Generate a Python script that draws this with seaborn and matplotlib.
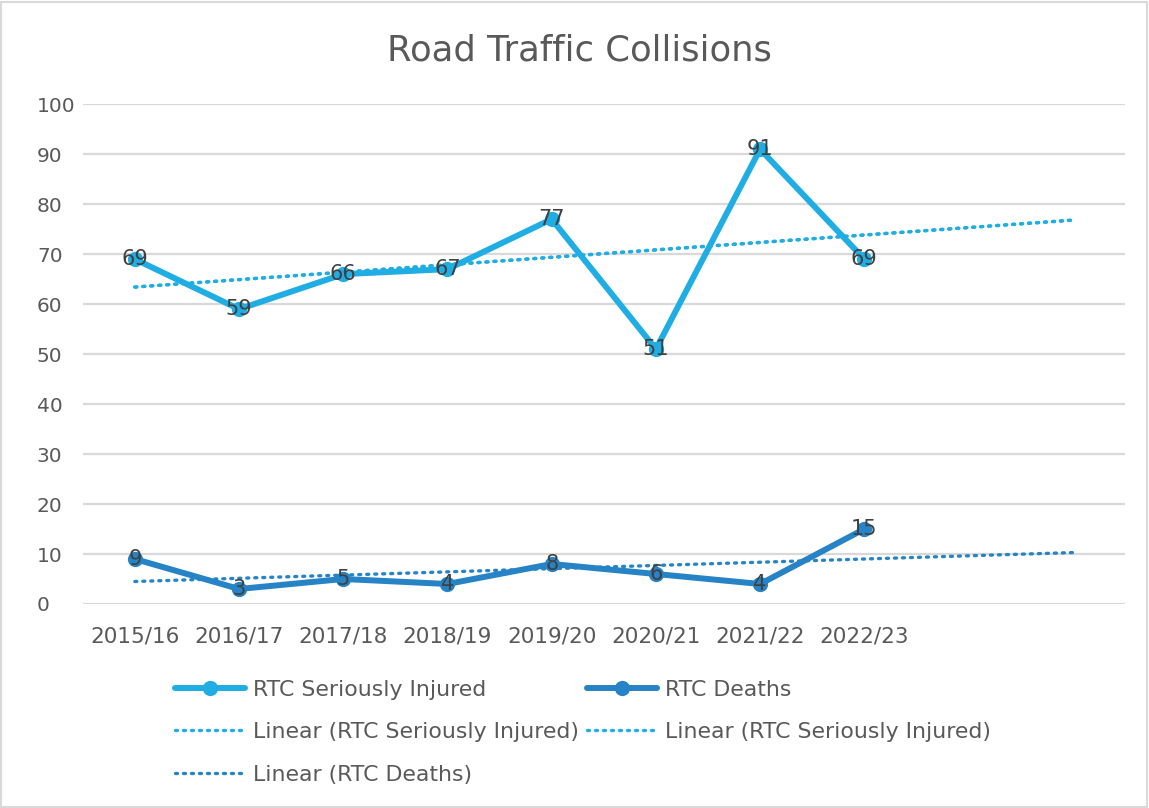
import numpy as np
import pandas as pd
import matplotlib
matplotlib.use("Agg")
import matplotlib.pyplot as plt
from matplotlib.patches import Rectangle
from matplotlib.lines import Line2D
import seaborn as sns

categories = ["2015/16", "2016/17", "2017/18", "2018/19", "2019/20", "2020/21", "2021/22", "2022/23"]
seriously_injured = [69, 59, 66, 67, 77, 51, 91, 69]
deaths = [9, 3, 5, 4, 8, 6, 4, 15]
forecast_periods = 2
y_ticks = [0, 10, 20, 30, 40, 50, 60, 70, 80, 90, 100]

c_si = "#1FADE4"
c_d = "#2683C6"
txt = "#595959"
grid = "#D9D9D9"

sns.set_theme(style="white")
plt.rcParams['font.family'] = ['DejaVu Sans']

fig = plt.figure(figsize=(11.49, 8.08), dpi=100)
ax = fig.add_axes([0.072, 0.2525, 0.907, 0.6185])

x = np.arange(len(categories))
df = pd.DataFrame({"x": np.concatenate([x, x]),
                   "value": seriously_injured + deaths,
                   "series": ["RTC Seriously Injured"] * len(x) + ["RTC Deaths"] * len(x)})

sns.lineplot(data=df, x="x", y="value", hue="series",
             palette={"RTC Seriously Injured": c_si, "RTC Deaths": c_d},
             marker="o", markersize=11, markeredgewidth=0, linewidth=4.3,
             ax=ax, legend=False, zorder=3)

# linear trendlines (least squares, forecast 2 periods forward)
xt = np.arange(len(categories) + forecast_periods)
dot = (0, (0.6, 1.8))
for vals, col in [(seriously_injured, c_si), (seriously_injured, c_si), (deaths, c_d)]:
    m, b = np.polyfit(x + 1, vals, 1)
    ax.plot(xt, m * (xt + 1) + b, color=col, linestyle=dot,
            linewidth=2.4, dash_capstyle="round", zorder=2)

# data labels
for vals in (seriously_injured, deaths):
    for xi, v in zip(x, vals):
        ax.text(xi, v, str(v), ha="center", va="center", fontsize=15,
                color="#404040", zorder=4)

ax.set_xlim(-0.5, len(categories) + forecast_periods - 0.5)
ax.set_ylim(0, 100)
ax.set_yticks(y_ticks)
ax.set_yticklabels([str(t) for t in y_ticks], fontsize=14.5, color=txt)
ax.set_xticks(x)
ax.set_xticklabels(categories, fontsize=15.5, color=txt)
ax.tick_params(axis="x", length=0, pad=16)
ax.tick_params(axis="y", length=0, pad=33)
for lbl in ax.get_yticklabels():
    lbl.set_horizontalalignment("left")
ax.grid(axis="y", color=grid, linewidth=1.6)
ax.set_axisbelow(True)
for s in ax.spines.values():
    s.set_visible(False)
ax.set_xlabel("")
ax.set_ylabel("")

fig.text(0.504, 0.938, "Road Traffic Collisions", ha="center", va="center",
         fontsize=25.5, color=txt)

h_si = Line2D([], [], color=c_si, linewidth=4.3, marker="o", markersize=11, markeredgewidth=0)
h_d = Line2D([], [], color=c_d, linewidth=4.3, marker="o", markersize=11, markeredgewidth=0)
h_tsi = Line2D([], [], color=c_si, linewidth=2.4, linestyle=dot, dash_capstyle="round")
h_td = Line2D([], [], color=c_d, linewidth=2.4, linestyle=dot, dash_capstyle="round")
handles = [h_si, h_tsi, h_td, h_d, h_tsi]
labels = ["RTC Seriously Injured", "Linear (RTC Seriously Injured)", "Linear (RTC Deaths)",
          "RTC Deaths", "Linear (RTC Seriously Injured)"]
leg = fig.legend(handles, labels, ncol=2, loc="upper left", bbox_to_anchor=(0.152, 0.159),
                 frameon=False, fontsize=15.8, handlelength=3.2, handletextpad=0.37,
                 columnspacing=0.37, labelspacing=1.03, labelcolor=txt, borderaxespad=0,
                 borderpad=0)

fig.patches.append(Rectangle((0.001, 0.001), 0.997, 0.997, transform=fig.transFigure,
                             fill=False, edgecolor=grid, linewidth=1.5))

fig.savefig("out.png", dpi=100, facecolor="white")
